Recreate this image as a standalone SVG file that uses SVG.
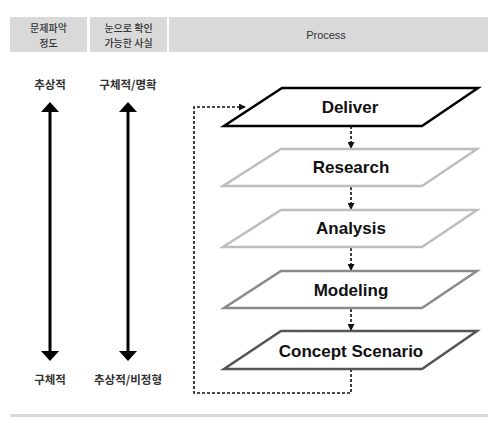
<svg xmlns="http://www.w3.org/2000/svg" width="500" height="424" viewBox="0 0 500 424">
<style>
.hd{fill:#d9d9d9}
.ht{font-family:"Noto Sans CJK KR","Liberation Sans",sans-serif;font-size:10px;font-weight:500;fill:#333;text-anchor:middle}
.pt{font-family:"Liberation Sans",Arial,sans-serif;font-size:11px;fill:#333;text-anchor:middle}
.kt{font-family:"Noto Sans CJK KR","Liberation Sans",sans-serif;font-size:11.5px;font-weight:bold;fill:#333;text-anchor:middle}
.nt{font-family:"Liberation Sans",Arial,sans-serif;font-size:17px;font-weight:bold;fill:#111;text-anchor:middle}
.pg{fill:#fff;stroke-width:2.5}
.dash{fill:none;stroke:#111;stroke-width:1.6;stroke-dasharray:3,2}
.shaft{stroke:#000;stroke-width:3}
</style>
<defs>
<marker id="ah" viewBox="0 0 10 10" refX="10" refY="5" markerWidth="7" markerHeight="7" markerUnits="userSpaceOnUse" orient="auto">
<path d="M0,0 L10,5 L0,10 z" fill="#111"/>
</marker>
</defs>
<rect width="500" height="424" fill="#fff"/>
<g id="header">
<rect class="hd" x="10" y="17" width="77" height="35"/>
<rect class="hd" x="90" y="17" width="77" height="35"/>
<rect class="hd" x="169" y="17" width="319" height="35"/>
<text class="ht" x="48.5" y="32">문제파악</text>
<text class="ht" x="48.5" y="46.5">정도</text>
<text class="ht" x="128.5" y="32">눈으로 확인</text>
<text class="ht" x="128.5" y="46.5">가능한 사실</text>
<text class="pt" x="326" y="39">Process</text>
</g>
<g id="scale1">
<text class="kt" x="50" y="89">추상적</text>
<polygon points="50,102 59,112 41,112" fill="#000"/>
<line class="shaft" x1="50" y1="111" x2="50" y2="352"/>
<polygon points="41,351 59,351 50,361" fill="#000"/>
<text class="kt" x="50" y="384">구체적</text>
</g>
<g id="scale2">
<text class="kt" x="128" y="89">구체적/명확</text>
<polygon points="128,102 137,112 119,112" fill="#000"/>
<line class="shaft" x1="128" y1="111" x2="128" y2="352"/>
<polygon points="119,351 137,351 128,361" fill="#000"/>
<text class="kt" x="128" y="384">추상적/비정형</text>
</g>
<g id="connectors">
<path class="dash" d="M351,126 V149" marker-end="url(#ah)"/>
<path class="dash" d="M351,187 V210" marker-end="url(#ah)"/>
<path class="dash" d="M351,248 V271" marker-end="url(#ah)"/>
<path class="dash" d="M351,309 V331" marker-end="url(#ah)"/>
<path class="dash" d="M351,369 V393 H194 V107 H246" marker-end="url(#ah)"/>
</g>
<g id="deliver">
<polygon class="pg" stroke="#000" points="282,88 478,88 422,126 224,126"/>
<text class="nt" x="350" y="113">Deliver</text>
</g>
<g id="research">
<polygon class="pg" stroke="#bdbdbd" points="281,149 477,149 422,186 223,186"/>
<text class="nt" x="351" y="173">Research</text>
</g>
<g id="analysis">
<polygon class="pg" stroke="#bdbdbd" points="281,210 477,210 422,247 223,247"/>
<text class="nt" x="351" y="234">Analysis</text>
</g>
<g id="modeling">
<polygon class="pg" stroke="#8a8a8a" points="281,271 477,271 422,308 224,308"/>
<text class="nt" x="351" y="296">Modeling</text>
</g>
<g id="concept">
<polygon class="pg" stroke="#555" points="281,331 477,331 422,369 224,369"/>
<text class="nt" x="351" y="357">Concept Scenario</text>
</g>
<rect x="10" y="414" width="478" height="3" fill="#d9d9d9"/>
</svg>
